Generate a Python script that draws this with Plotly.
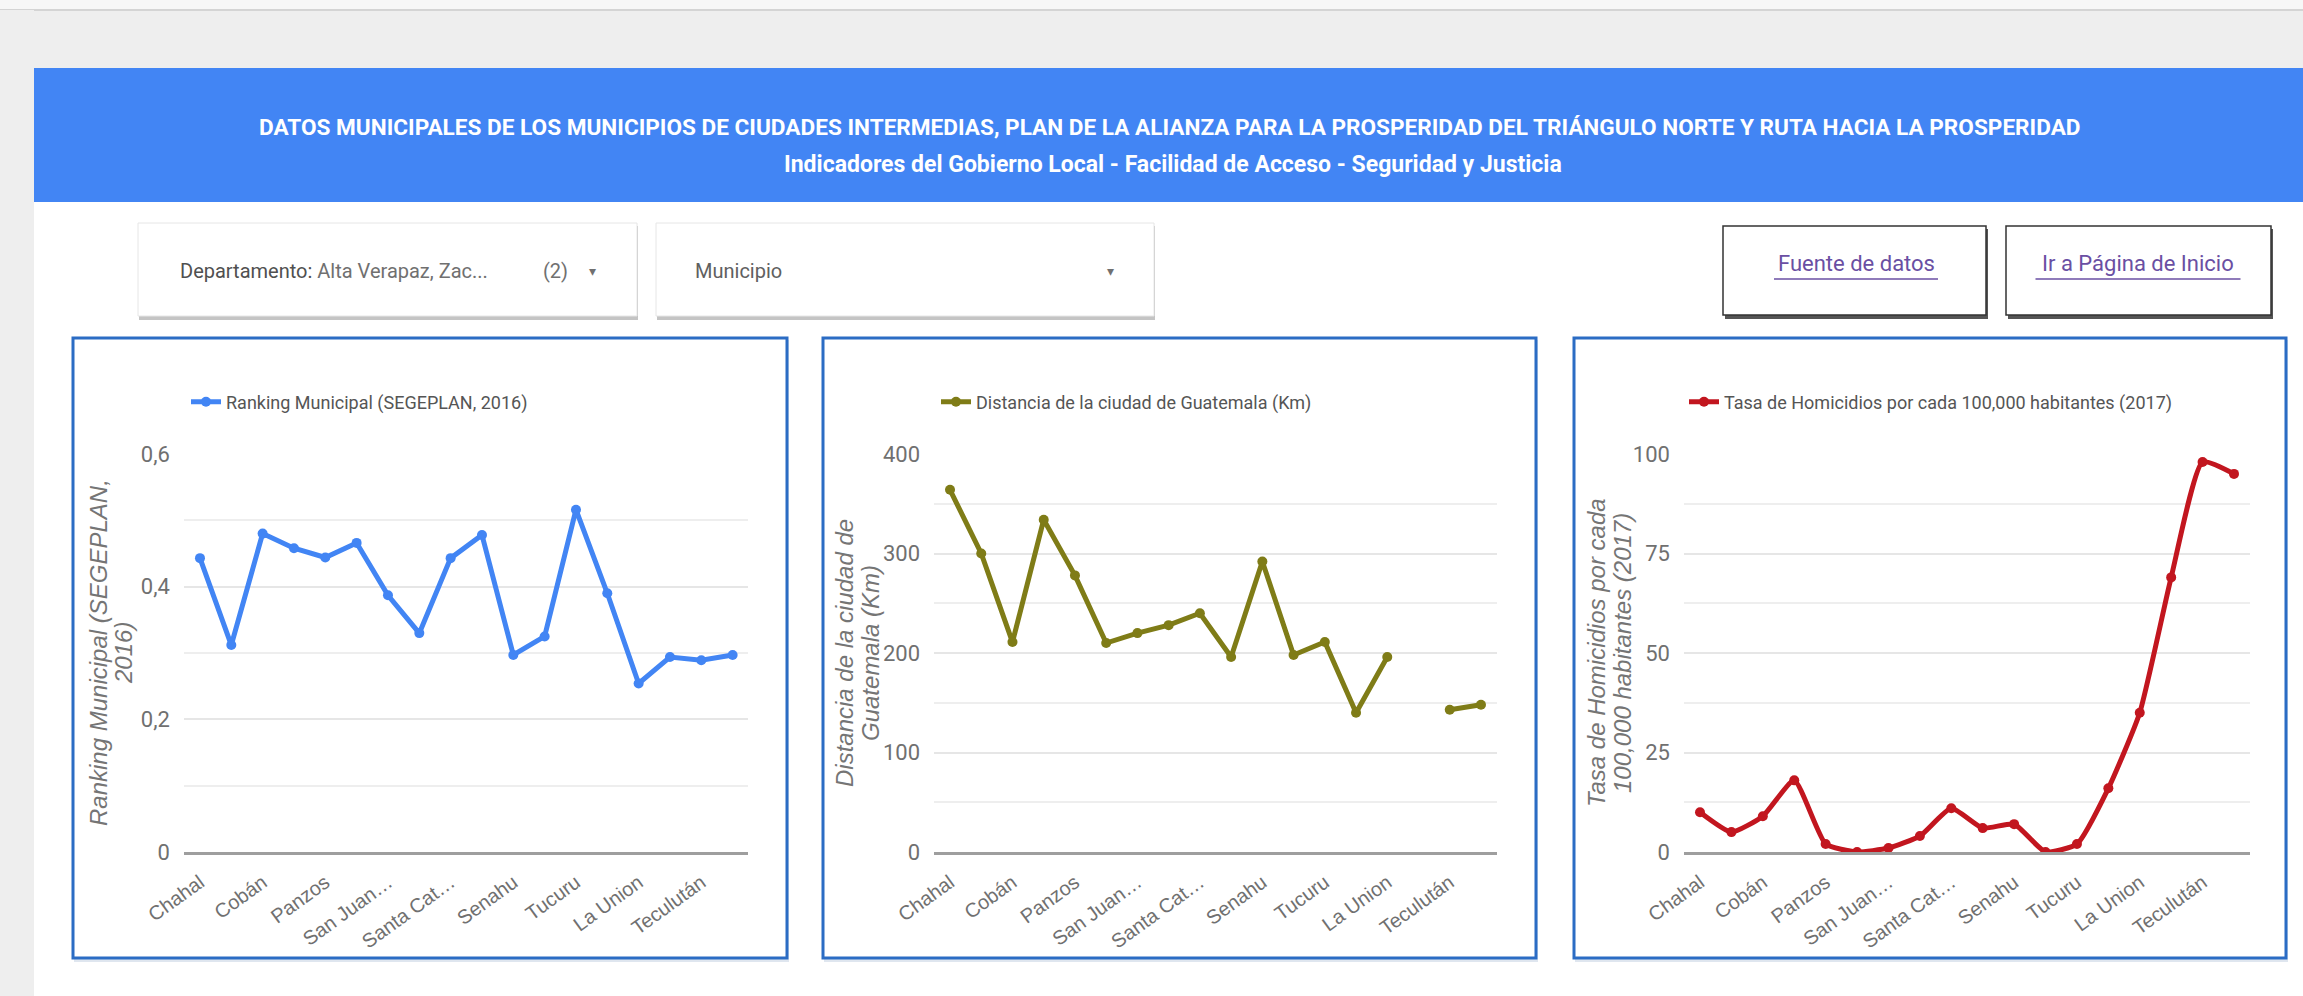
import plotly.graph_objects as go

W, H = 2303, 996

# ---------------- data ----------------
municipios = ["Chahal", "Chisec", "Cobán", "Fray Bartolomé…", "Panzos", "San Cristóbal…",
              "San Juan…", "San Pedro…", "Santa Cat…", "Santa Cruz…", "Senahu", "Tactic",
              "Tucuru", "Gualán", "La Union", "Río Hondo", "Teculután", "Zacapa"]
tick_labels = ["Chahal", "Cobán", "Panzos", "San Juan…", "Santa Cat…", "Senahu",
               "Tucuru", "La Union", "Teculután"]

ranking = [0.443, 0.312, 0.480, 0.458, 0.444, 0.466, 0.387, 0.330, 0.443,
           0.478, 0.297, 0.325, 0.516, 0.390, 0.254, 0.294, 0.289, 0.297]
distancia = [364, 300, 211, 334, 278, 210, 220, 228, 240,
             196, 292, 198, 211, 140, 196, None, 143, 148]
homicidios = [10, 5, 9, 18, 2, 0, 1, 4, 11, 6, 7, 0, 2, 16, 35, 69, 98, 95]

series_names = ["Ranking Municipal (SEGEPLAN, 2016)",
                "Distancia de la ciudad de Guatemala (Km)",
                "Tasa de Homicidios por cada 100,000 habitantes (2017)"]
y_titles = [["Ranking Municipal (SEGEPLAN,", "2016)"],
            ["Distancia de la ciudad de", "Guatemala (Km)"],
            ["Tasa de Homicidios por cada", "100,000 habitantes (2017)"]]
y_ticks = [[0, 0.2, 0.4, 0.6], [0, 100, 200, 300, 400], [0, 25, 50, 75, 100]]
y_ticktext = [["0", "0,2", "0,4", "0,6"], ["0", "100", "200", "300", "400"],
              ["0", "25", "50", "75", "100"]]
y_minor = [0.1, 50, 12.5]
colors = ["#4285F4", "#7f7c17", "#c2161f"]

title1 = ("DATOS MUNICIPALES DE LOS MUNICIPIOS DE CIUDADES INTERMEDIAS, PLAN DE LA ALIANZA "
          "PARA LA PROSPERIDAD DEL TRIÁNGULO NORTE Y RUTA HACIA LA PROSPERIDAD")
title2 = "Indicadores del Gobierno Local - Facilidad de Acceso - Seguridad y Justicia"

# ---------------- helpers ----------------
def px(x):
    return x / W

def py(y):
    return 1 - y / H

shapes = []
annotations = []

def rect(x0, y0, x1, y1, fill, line=None, lw=0):
    shapes.append(dict(type="rect", xref="paper", yref="paper",
                       x0=px(x0), x1=px(x1), y0=py(y0), y1=py(y1),
                       fillcolor=fill, layer="below",
                       line=dict(color=line if line else fill, width=lw)))

def hline(x0, x1, y, color, w):
    shapes.append(dict(type="line", xref="paper", yref="paper",
                       x0=px(x0), x1=px(x1), y0=py(y), y1=py(y),
                       line=dict(color=color, width=w), layer="below"))

def text(x, y, t, size, color, family="Roboto", xa="left", ya="middle", angle=0):
    annotations.append(dict(x=px(x), y=py(y), xref="paper", yref="paper", text=t,
                            showarrow=False, xanchor=xa, yanchor=ya, textangle=angle,
                            font=dict(family=family, size=size, color=color)))

# ---------------- page background ----------------
rect(0, 0, W, 10, "#f7f7f7")
rect(0, 10, W, 68, "#eeeeee")
hline(0, W, 10, "#d4d4d4", 2)
rect(0, 10, 34, H, "#eeeeee")
rect(34, 202, W, H, "#ffffff")
rect(34, 68, W, 202, "#4285F4")

text(1170, 127, "<b>" + title1 + "</b>", 22.6, "#ffffff", xa="center")
text(1173, 164, "<b>" + title2 + "</b>", 23, "#ffffff", xa="center")

# dropdowns
for (x0, x1) in [(138, 637), (656, 1154)]:
    rect(x0 + 1, 226, x1 + 1, 320, "#c4c4c4")
    rect(x0, 223, x1, 316, "#ffffff", "#e6e6e6", 1)
text(178, 271, "<span style='color:#505050'>Departamento:</span> Alta Verapaz, Zac...",
     20, "#707070")
text(555, 271, "(2)", 20, "#707070", xa="center")
text(592, 271, "▾", 14, "#707070", xa="center")
text(693, 271, "Municipio", 20, "#606060")
text(1110, 271, "▾", 14, "#707070", xa="center")

# buttons
for (x0, x1, label, cx, tw) in [(1723, 1986, "Fuente de datos", 1856, 164),
                                (2006, 2271, "Ir a Página de Inicio", 2138, 205)]:
    rect(x0 + 2, 229, x1 + 2, 319, "#555555")
    rect(x0, 226, x1, 315, "#ffffff", "#333333", 1.5)
    text(cx, 264, label, 22, "#6a4fa3", xa="center")
    hline(cx - tw / 2, cx + tw / 2, 279, "#6a4fa3", 1.5)

# chart panels
panels = [(73, 787), (823, 1536), (1574, 2286)]
for (x0, x1) in panels:
    rect(x0 + 1, 340, x1 + 2, 962, "#dfe6ef")
    rect(x0, 338, x1, 958, "#ffffff", "#2b6cc4", 3)

# ---------------- charts ----------------
x_domains = [(184.3, 748.3), (934.4, 1496.6), (1684.3, 2249.7)]
y_dom = [py(852), py(454)]
y_ranges = [[0, 0.6], [0, 400], [0, 100]]
title_x = [(98, 123), (844, 870), (1596, 1622)]
legend_x = [186, 936, 1684]

fig = go.Figure()
datasets = [ranking, distancia, homicidios]
for i in range(3):
    sfx = "" if i == 0 else str(i + 1)
    fig.add_trace(go.Scatter(
        x=municipios, y=datasets[i], mode="lines+markers", name=series_names[i],
        line=dict(color=colors[i], width=5,
                  shape="spline" if i == 2 else "linear", smoothing=0.5),
        marker=dict(color=colors[i], size=10),
        connectgaps=False,
        xaxis="x" + sfx, yaxis="y" + sfx,
        legend="legend" + sfx, showlegend=True))

    fig.update_layout(**{
        "xaxis" + sfx: dict(
            domain=[px(x_domains[i][0]), px(x_domains[i][1])],
            anchor="y" + sfx, type="category", range=[-0.5, 17.5],
            categoryorder="array", categoryarray=municipios,
            tickvals=municipios[::2], ticktext=tick_labels, tickangle=-36,
            tickfont=dict(family="Liberation Sans, Arial", size=20, color="#707070"),
            ticks="outside", ticklen=8, tickcolor="rgba(0,0,0,0)",
            showgrid=False, zeroline=False, automargin=False,
            showline=True, linecolor="#9e9e9e", linewidth=3,
            fixedrange=True),
        "yaxis" + sfx: dict(
            domain=y_dom, anchor="x" + sfx, range=y_ranges[i],
            tickvals=y_ticks[i], ticktext=y_ticktext[i],
            tickfont=dict(family="Roboto", size=22, color="#707070"),
            ticks="outside", ticklen=9, tickcolor="rgba(0,0,0,0)",
            showgrid=True, gridcolor="#e6e6e6", gridwidth=2,
            minor=dict(dtick=y_minor[i], tick0=0, showgrid=True,
                       gridcolor="#eeeeee", gridwidth=2),
            zeroline=False, showline=False, fixedrange=True, automargin=False),
        "legend" + sfx: dict(
            x=px(legend_x[i]), y=py(402), xanchor="left", yanchor="middle",
            orientation="h", bgcolor="rgba(0,0,0,0)", borderwidth=0,
            font=dict(family="Roboto", size=18, color="#555555"),
            itemclick=False, itemdoubleclick=False),
    })

    for j, line_txt in enumerate(y_titles[i]):
        text(title_x[i][j], 653, "<i>" + line_txt + "</i>", 24, "#757575",
             family="Liberation Sans, Arial", xa="center", angle=-90)

fig.update_layout(
    width=W, height=H, autosize=False,
    margin=dict(l=0, r=0, t=0, b=0, pad=0, autoexpand=False),
    paper_bgcolor="#ffffff", plot_bgcolor="rgba(0,0,0,0)",
    shapes=shapes, annotations=annotations, hovermode=False,
)

fig.write_html("out.html", config={"displayModeBar": False},
               post_script="document.body.style.margin='0';document.body.style.overflow='hidden';")
